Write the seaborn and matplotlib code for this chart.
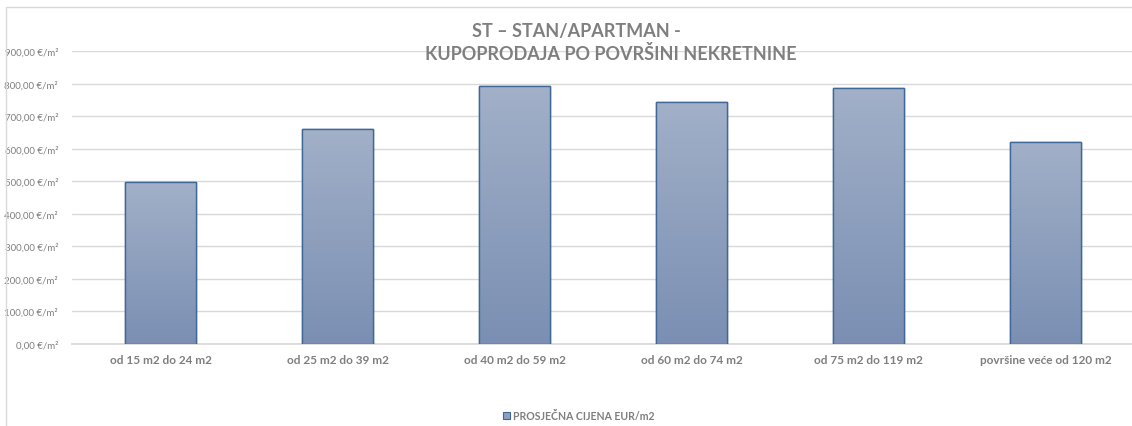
import numpy as np
import pandas as pd
import matplotlib as mpl
import matplotlib.pyplot as plt
import seaborn as sb
from matplotlib.colors import LinearSegmentedColormap
from matplotlib.patches import Rectangle
from matplotlib.ticker import FuncFormatter

mpl.use('agg')

# data
categories = ['od 15 m2 do 24 m2', 'od 25 m2 do 39 m2', 'od 40 m2 do 59 m2',
              'od 60 m2 do 74 m2', 'od 75 m2 do 119 m2', 'površine veće od 120 m2']
prices = [497, 660, 792, 745, 788, 622]
series_name = 'PROSJEČNA CIJENA EUR/m2'
title_lines = ['ST – STAN/APARTMAN -', 'KUPOPRODAJA PO POVRŠINI NEKRETNINE']

width = 11.32
height = 4.27

sb.set_theme(style="white")
plt.rcParams['font.family'] = ['Lato', 'DejaVu Sans']

grey = '#7f7f7f'
edge = '#3f6797'
grad = LinearSegmentedColormap.from_list('bar', ['#7a8fb3', '#a2b0c8'])

df = pd.DataFrame({'category': categories, 'price': prices})

fig = plt.figure(figsize=(width, height), dpi=100)
ax = fig.add_axes([72 / 1132, 82.2 / 427, 1062 / 1132, 292.5 / 427])

sb.barplot(x='category', y='price', data=df, ax=ax, width=0.4,
           color='#8fa0bf', edgecolor=edge, linewidth=1.0, zorder=3)

# vertical gradient inside every bar
ramp = np.linspace(0, 1, 256).reshape(-1, 1)
for bar in ax.patches:
    x0, y0 = bar.get_x(), bar.get_y()
    w, h = bar.get_width(), bar.get_height()
    im = ax.imshow(ramp, cmap=grad, aspect='auto', origin='lower',
                   extent=[x0, x0 + w, y0, y0 + h], zorder=3.5)
    im.set_clip_path(bar)
    ax.add_patch(Rectangle((x0, y0), w, h, fill=False, edgecolor=edge,
                           linewidth=1.0, zorder=4))

ax.set_xlim(-0.5, 5.5)
ax.set_ylim(0, 900)
ax.set_yticks(np.arange(0, 901, 100))
ax.yaxis.set_major_formatter(FuncFormatter(lambda v, p: '{:,.2f} €/m²'.format(v).replace('.', ',')))
ax.grid(axis='y', color='#d9d9d9', linewidth=1, zorder=0)
ax.set_axisbelow(True)
for s in ['left', 'right', 'top']:
    ax.spines[s].set_visible(False)
ax.spines['bottom'].set_color('#d9d9d9')
ax.tick_params(axis='y', length=0, labelsize=7, labelcolor=grey, pad=10)
ax.tick_params(axis='x', length=0, labelsize=8.5, labelcolor=grey, pad=7)
for lbl in ax.get_xticklabels():
    lbl.set_fontweight('bold')
ax.set_xlabel('')
ax.set_ylabel('')

# title, two lines offset like the original
fig.text(576 / 1132, 1 - 31 / 427, title_lines[0], ha='center', va='center',
         fontsize=13, fontweight='bold', color=grey)
fig.text(611 / 1132, 1 - 54 / 427, title_lines[1], ha='center', va='center',
         fontsize=13, fontweight='bold', color=grey)

# legend at the bottom
fig.patches.append(Rectangle((503 / 1132, 1 - 420 / 427), 7 / 1132, 7 / 427,
                             transform=fig.transFigure, facecolor='#8fa0bf',
                             edgecolor=edge, linewidth=0.8))
fig.text(513 / 1132, 1 - 416.5 / 427, series_name, ha='left', va='center',
         fontsize=7.6, fontweight='bold', color=grey)

# chart frame
fig.patches.append(Rectangle((6 / 1132, -0.1), 1.2, 1 - 8 / 427 + 0.1,
                             transform=fig.transFigure, fill=False,
                             edgecolor='#d9d9d9', linewidth=1))

fig.savefig('out.png', dpi=100)
